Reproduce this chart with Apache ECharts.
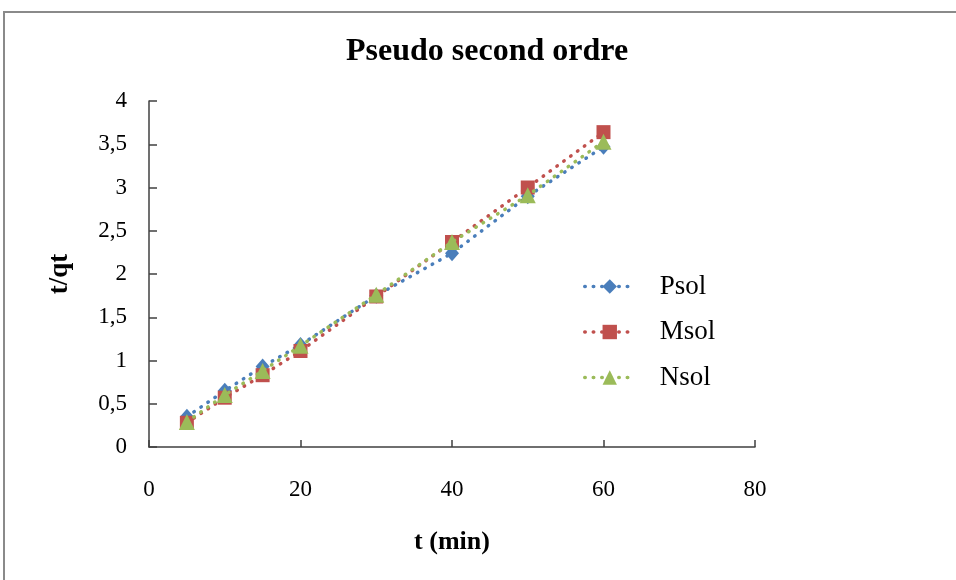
<!DOCTYPE html>
<html>
<head>
<meta charset="utf-8">
<script src="https://cdn.jsdelivr.net/npm/echarts@6/dist/echarts.min.js"></script>
<style>
  html, body { margin: 0; padding: 0; background: #fff; }
  #chart { width: 956px; height: 580px; }
</style>
</head>
<body>
<div id="chart"></div>
<script>
// Contact time (min)
const times = [5, 10, 15, 20, 30, 40, 50, 60];
// t/qt for each sorbent
const psol = [0.35, 0.65, 0.93, 1.18, 1.75, 2.24, 2.90, 3.47];
const msol = [0.28, 0.57, 0.83, 1.11, 1.74, 2.37, 3.00, 3.64];
const nsol = [0.29, 0.60, 0.88, 1.17, 1.76, 2.37, 2.91, 3.53];

const seriesNames = ['Psol', 'Msol', 'Nsol'];
const seriesColors = ['#4A7EBB', '#C0504D', '#9BBB59'];
const seriesSymbols = ['diamond', 'rect', 'triangle'];
const symbolSizes = [[14, 16], 14, 16];
const seriesValues = [psol, msol, nsol];

const serif = '"Liberation Serif", "Times New Roman", serif';
const dotted = { width: 3.5, type: [0.5, 8], cap: 'round' };

const series = seriesNames.map((name, i) => ({
  name: name,
  type: 'line',
  data: times.map((t, k) => [t, seriesValues[i][k]]),
  symbol: seriesSymbols[i],
  symbolSize: symbolSizes[i],
  itemStyle: { color: seriesColors[i] },
  lineStyle: Object.assign({ color: seriesColors[i] }, dotted),
  smooth: false,
  z: 2 + i
}));

const chart = echarts.init(document.getElementById('chart'), null, { renderer: 'canvas' });
chart.setOption({
  animation: false,
  backgroundColor: '#fff',
  graphic: [{
    type: 'rect',
    shape: { x: 4, y: 12, width: 1000, height: 1000 },
    style: { fill: 'none', stroke: '#8a8a8a', lineWidth: 2 },
    silent: true,
    z: -1
  }],
  title: {
    text: 'Pseudo second ordre',
    left: 341,
    top: 31,
    textStyle: { fontFamily: serif, fontWeight: 'bold', fontSize: 32, color: '#000' }
  },
  legend: {
    orient: 'vertical',
    left: 583,
    top: 273,
    padding: 0,
    itemWidth: 50,
    itemHeight: 18,
    itemGap: 18.5,
    data: seriesNames,
    lineStyle: dotted,
    textStyle: { fontFamily: serif, fontSize: 27, color: '#000', padding: [0, 0, 0, 20] }
  },
  grid: { left: 149, top: 101, right: 201, bottom: 133, containLabel: false },
  xAxis: {
    type: 'value',
    min: 0, max: 80, interval: 20,
    name: 't (min)',
    nameLocation: 'middle',
    nameGap: 82,
    nameTextStyle: { fontFamily: serif, fontWeight: 'bold', fontSize: 26, color: '#000' },
    axisLine: { lineStyle: { color: '#404040', width: 1.5 } },
    axisTick: { inside: true, length: 7, lineStyle: { color: '#404040', width: 1.5 } },
    axisLabel: { margin: 31, fontFamily: serif, fontSize: 23, color: '#000' },
    splitLine: { show: false }
  },
  yAxis: {
    type: 'value',
    min: 0, max: 4, interval: 0.5,
    name: 't/qt',
    nameLocation: 'middle',
    nameGap: 75,
    nameRotate: 90,
    nameTextStyle: { fontFamily: serif, fontWeight: 'bold', fontSize: 27, color: '#000' },
    axisLine: { show: true, lineStyle: { color: '#404040', width: 1.5 } },
    axisTick: { show: true, inside: true, length: 8, lineStyle: { color: '#404040', width: 1.5 } },
    axisLabel: {
      margin: 22, fontFamily: serif, fontSize: 23, color: '#000',
      formatter: v => String(v).replace('.', ',')
    },
    splitLine: { show: false }
  },
  series: series
});
</script>
</body>
</html>
